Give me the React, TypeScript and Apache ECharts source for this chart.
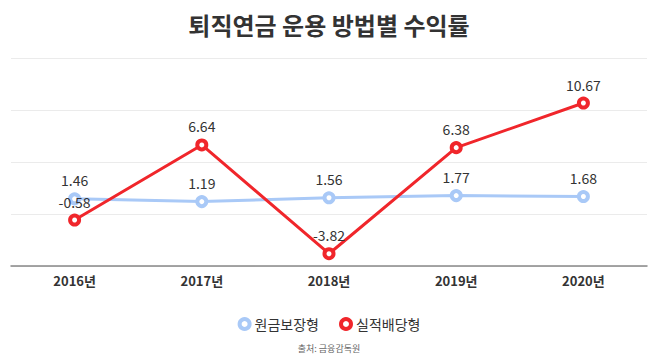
import React, { useEffect, useRef } from "react";
import * as echarts from "echarts";

const categories = ["2016년", "2017년", "2018년", "2019년", "2020년"];
const principalGuaranteed = [1.46, 1.19, 1.56, 1.77, 1.68];
const performanceDividend = [-0.58, 6.64, -3.82, 6.38, 10.67];
const seriesNames = ["원금보장형", "실적배당형"];
const titleText = "퇴직연금 운용 방법별 수익률";
const sourceText = "출처: 금융감독원";

const FONT = "'Noto Sans CJK KR', 'Noto Sans', sans-serif";
const BLUE = "#a9c9f7";
const RED = "#f0262b";

export default function App() {
  const ref = useRef<HTMLDivElement>(null);
  useEffect(() => {
    if (!ref.current) return;
    const chart = echarts.init(ref.current, undefined, { renderer: "svg" });
    chart.setOption({
      animation: false,
      backgroundColor: "#ffffff",
      title: {
        text: titleText,
        left: "center",
        top: 7,
        textStyle: { fontFamily: FONT, fontSize: 24, fontWeight: "bold", color: "#333" },
      },
      graphic: [
        {
          type: "text",
          left: "center",
          top: 344,
          style: { text: sourceText, fontFamily: FONT, fontSize: 9, fill: "#666" },
        },
      ],
      legend: {
        top: 312,
        left: "center",
        itemGap: 20,
        itemWidth: 10,
        itemHeight: 10,
        data: [
          { name: seriesNames[0], icon: "circle", itemStyle: { color: "#fff", borderColor: BLUE, borderWidth: 4 } },
          { name: seriesNames[1], icon: "circle", itemStyle: { color: "#fff", borderColor: RED, borderWidth: 4 } },
        ],
        textStyle: { fontFamily: FONT, fontSize: 14, color: "#333" },
      },
      grid: { left: 11, right: 11, top: 58, bottom: 97, containLabel: false },
      xAxis: {
        type: "category",
        data: categories,
        boundaryGap: true,
        axisLine: { onZero: false, lineStyle: { color: "#888", width: 1.5 } },
        axisTick: { alignWithLabel: true, length: 5, lineStyle: { color: "#888" } },
        axisLabel: { fontFamily: FONT, fontSize: 13, fontWeight: "bold", color: "#333", margin: 8 },
      },
      yAxis: {
        type: "value",
        min: -5,
        max: 15,
        interval: 5,
        axisLabel: { show: false },
        axisLine: { show: false },
        axisTick: { show: false },
        splitLine: { lineStyle: { color: "#ebebeb", width: 1 } },
      },
      series: [
        {
          name: seriesNames[0],
          type: "line",
          data: principalGuaranteed,
          symbol: "circle",
          symbolSize: 9,
          showAllSymbol: true,
          lineStyle: { width: 3, color: BLUE },
          itemStyle: { color: "#fff", borderColor: BLUE, borderWidth: 4 },
          label: { show: true, position: "top", fontFamily: FONT, fontSize: 14, color: "#333", distance: 5 },
          z: 2,
        },
        {
          name: seriesNames[1],
          type: "line",
          data: performanceDividend,
          symbol: "circle",
          symbolSize: 9,
          showAllSymbol: true,
          lineStyle: { width: 3, color: RED },
          itemStyle: { color: "#fff", borderColor: RED, borderWidth: 4 },
          label: { show: true, position: "top", fontFamily: FONT, fontSize: 14, color: "#333", distance: 5 },
          z: 3,
        },
      ],
    });
    return () => chart.dispose();
  }, []);
  return <div ref={ref} style={{ width: 658, height: 363, margin: -8 }} />;
}
